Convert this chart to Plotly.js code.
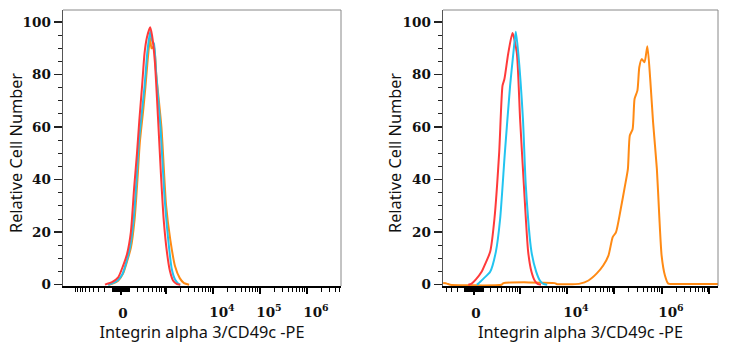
<!DOCTYPE html>
<html>
<head>
<meta charset="utf-8">
<script src="https://cdn.plot.ly/plotly-3.0.1.min.js"></script>
<style>html,body{margin:0;padding:0;background:#fff;}#chart{width:729px;height:350px;}</style>
</head>
<body>
<div id="chart"></div>
<script>
// ---- Data (x in display/decade units of the biexponential scale, y = relative cell number) ----
const leftRedX   = [-0.34,-0.30,-0.19,-0.06,0.04,0.13,0.21,0.28,0.34,0.39,0.45,0.50,0.55,0.62,0.66,0.72,0.79,0.85,0.91,0.98,1.04,1.11,1.19,1.26];
const leftRedY   = [0,0.3,1.0,2.8,7,11.8,20,37,50,62.6,76,88,94,98,95,85,62.6,42,24.4,12,5.3,1.5,0.2,0];
const leftCyanX  = [-0.28,-0.20,-0.08,0.03,0.12,0.19,0.27,0.33,0.38,0.44,0.50,0.56,0.62,0.66,0.70,0.75,0.84,0.92,1.00,1.08,1.15,1.22,1.26];
const leftCyanY  = [0,0.4,1.5,4,9,14,25,40,54,65,75.3,88.5,96.3,93,91.8,80,60,35,18,6,2,0.4,0];
const leftOrangeX= [-0.26,-0.18,-0.06,0.05,0.14,0.21,0.29,0.35,0.40,0.47,0.52,0.56,0.62,0.65,0.70,0.75,0.86,0.96,1.05,1.15,1.25,1.34,1.45];
const leftOrangeY= [0,0.4,1.5,4.5,9.5,14,25,40,54,66,75.3,84,94,90,90.7,80,60,30,17,7,2.5,0.6,0];
const rightRedX  = [-0.12,-0.05,0.04,0.16,0.25,0.34,0.43,0.53,0.60,0.64,0.72,0.81,0.90,0.97,1.05,1.14,1.21,1.28,1.35,1.41];
const rightRedY  = [0,0.4,2,4.9,8.5,12.5,25.1,50.4,75.8,78.3,88,95.8,88.5,63.1,37.8,12.5,4.9,1.5,0.2,0];
const rightCyanX = [0.06,0.09,0.21,0.34,0.46,0.55,0.65,0.76,0.83,0.88,0.93,1.03,1.09,1.21,1.31,1.39,1.46,1.54];
const rightCyanY = [0,0.4,2.5,4.9,12.5,25.1,50.4,75.8,88.5,96.3,88.5,63.1,37.8,12.5,4.9,1.5,0.3,0];
const rightOrangeX = [-0.65,-0.57,-0.50,0.58,0.62,1.70,1.75,2.06,2.23,2.41,2.58,2.72,2.83,2.92,2.99,3.09,3.18,3.24,3.28,3.34,3.38,3.44,3.48,3.53,3.59,3.65,3.71,3.77,3.85,3.90,3.95,4.02,4.09,4.17,5.18];
const rightOrangeY = [0.6,0.4,0,0,0.6,0.6,0.2,0.2,0.4,1.6,4.2,7.3,11.1,18.1,20,28.9,37.8,44.1,56.8,59.3,70.7,73.9,82.8,85.9,84.7,90.8,78.3,61.9,44.1,26.3,11.1,3.5,0.4,0.3,0.3];

// tick labels (raw fluorescence values)
const zeroTick = [0];
const zeroText = ['<b>0</b>'];
const leftDecadeValues  = [1e4, 1e5, 1e6];
const leftDecadeText    = ['<b>10<sup>4</sup></b>', '<b>10<sup>5</sup></b>', '<b>10<sup>6</sup></b>'];
const leftPlainMajor    = [1e3, 1e4, 1e5, 1e6];
const rightDecadeValues = [1e4, 1e6];
const rightDecadeText   = ['<b>10<sup>4</sup></b>', '<b>10<sup>6</sup></b>'];
const rightPlainMajor   = [1e3, 1e4, 1e5, 1e6, 1e7];
const yTickValues = [0, 20, 40, 60, 80, 100];
const yTickText   = ['<b>0</b>', '<b>20</b>', '<b>40</b>', '<b>60</b>', '<b>80</b>', '<b>100</b>'];
const xTitle = 'Integrin alpha 3/CD49c -PE';
const yTitle = 'Relative Cell Number';

// ---- biexponential-like display transform ----
const T = v => Math.asinh(v / 220.7) / Math.LN10;
const minorRaw = [];
for (let d = 1; d <= 7; d++) {
  for (let k = 1; k <= 9; k++) {
    const v = k * Math.pow(10, d);
    if (!(k === 1 && d >= 3)) minorRaw.push(v);
    if (d <= 3) minorRaw.push(-v);
  }
}
const minorVals = minorRaw.map(T);

const RED = '#ff3a3a', CYAN = '#22c4f0', ORANGE = '#ff8a14';
function tr(x, y, color, xa, ya) {
  return {x: x, y: y, type: 'scatter', mode: 'lines', xaxis: xa, yaxis: ya,
    line: {color: color, width: 2, shape: 'spline', smoothing: 0.6}, hoverinfo: 'skip', showlegend: false};
}
function empty(xa, ya) {
  return {x: [], y: [], type: 'scatter', mode: 'lines', xaxis: xa, yaxis: ya, showlegend: false, hoverinfo: 'skip'};
}
const data = [
  tr(leftOrangeX, leftOrangeY, ORANGE, 'x', 'y'),
  tr(leftCyanX, leftCyanY, CYAN, 'x', 'y'),
  tr(leftRedX, leftRedY, RED, 'x', 'y'),
  tr(rightOrangeX, rightOrangeY, ORANGE, 'x2', 'y2'),
  tr(rightRedX, rightRedY, RED, 'x2', 'y2'),
  tr(rightCyanX, rightCyanY, CYAN, 'x2', 'y2'),
  empty('x3', 'y'), empty('x4', 'y2'), empty('x5', 'y'), empty('x6', 'y2')
];

const tickFont = {family: 'DejaVu Serif', size: 13.5, color: '#111', weight: 'bold'};
const titleFont = {family: 'Noto Sans', size: 16.3, color: '#111'};
function xAxis(domain, range, anchor) {
  return {
    domain: domain, range: range, anchor: anchor, showgrid: false, zeroline: false,
    showline: true, linecolor: '#000', linewidth: 2,
    tickmode: 'array', tickvals: zeroTick.map(T), ticktext: zeroText,
    ticks: 'outside', ticklen: 7, tickwidth: 2, tickcolor: '#000',
    ticklabelstandoff: 7, ticklabelshift: 2,
    minor: {tickmode: 'array', tickvals: minorVals, ticks: 'outside', ticklen: 4, tickwidth: 1, tickcolor: '#000'},
    tickfont: tickFont,
    title: {text: xTitle, font: titleFont, standoff: 6}
  };
}
function plainAxis(domain, range, vals, over, anchor) {
  return {
    domain: domain, range: range, overlaying: over, anchor: anchor, side: 'bottom',
    showgrid: false, zeroline: false, showline: false, showticklabels: false,
    tickmode: 'array', tickvals: vals.map(T),
    ticks: 'outside', ticklen: 7, tickwidth: 2, tickcolor: '#000'
  };
}
function labelAxis(domain, range, vals, text, over, anchor) {
  return {
    domain: domain, range: range, overlaying: over, anchor: anchor, side: 'bottom',
    showgrid: false, zeroline: false, showline: false,
    tickmode: 'array', tickvals: vals.map(T), ticktext: text, ticks: '',
    ticklabelstandoff: 16, ticklabelshift: 9, tickfont: tickFont
  };
}
function yAxis(anchor) {
  return {
    domain: [0, 1], range: [-0.5, 104.6], anchor: anchor, showgrid: false, zeroline: false,
    showline: true, linecolor: '#555', linewidth: 1.5,
    tickmode: 'array', tickvals: yTickValues, ticktext: yTickText,
    ticks: 'outside', ticklen: 8, tickwidth: 1.5, tickcolor: '#222',
    minor: {dtick: 5, ticks: 'outside', ticklen: 4, tickwidth: 1, tickcolor: '#222'},
    tickfont: tickFont
  };
}
function border(xr, yr) {
  return [
    {type: 'line', xref: xr, yref: yr, x0: 0, x1: 1, y0: 1, y1: 1, line: {color: '#888', width: 1}},
    {type: 'line', xref: xr, yref: yr, x0: 1, x1: 1, y0: 0, y1: 1, line: {color: '#888', width: 1}}
  ];
}
function yTitleAnn(px) {
  return {text: yTitle, xref: 'paper', yref: 'paper', x: px / 729, y: (286 - 153) / 276,
    xanchor: 'center', yanchor: 'middle', textangle: -90, showarrow: false, font: titleFont};
}
const dL = [63/729, 341/729], rL = [-1.234, 4.681];
const dR = [443/729, 718/729], rR = [-0.653, 5.137];
const layout = {
  width: 729, height: 350, margin: {l: 0, r: 0, t: 10, b: 64},
  paper_bgcolor: '#fff', plot_bgcolor: '#fff', showlegend: false,
  xaxis: xAxis(dL, rL, 'y'),
  yaxis: yAxis('x'),
  xaxis2: xAxis(dR, rR, 'y2'),
  yaxis2: yAxis('x2'),
  xaxis3: plainAxis(dL, rL, leftPlainMajor, 'x', 'y'),
  xaxis4: plainAxis(dR, rR, rightPlainMajor, 'x2', 'y2'),
  xaxis5: labelAxis(dL, rL, leftDecadeValues, leftDecadeText, 'x', 'y'),
  xaxis6: labelAxis(dR, rR, rightDecadeValues, rightDecadeText, 'x2', 'y2'),
  shapes: border('x domain', 'y domain').concat(border('x2 domain', 'y2 domain')),
  annotations: [yTitleAnn(16), yTitleAnn(395)]
};
Plotly.newPlot('chart', data, layout, {staticPlot: true, displayModeBar: false});
</script>
</body>
</html>
